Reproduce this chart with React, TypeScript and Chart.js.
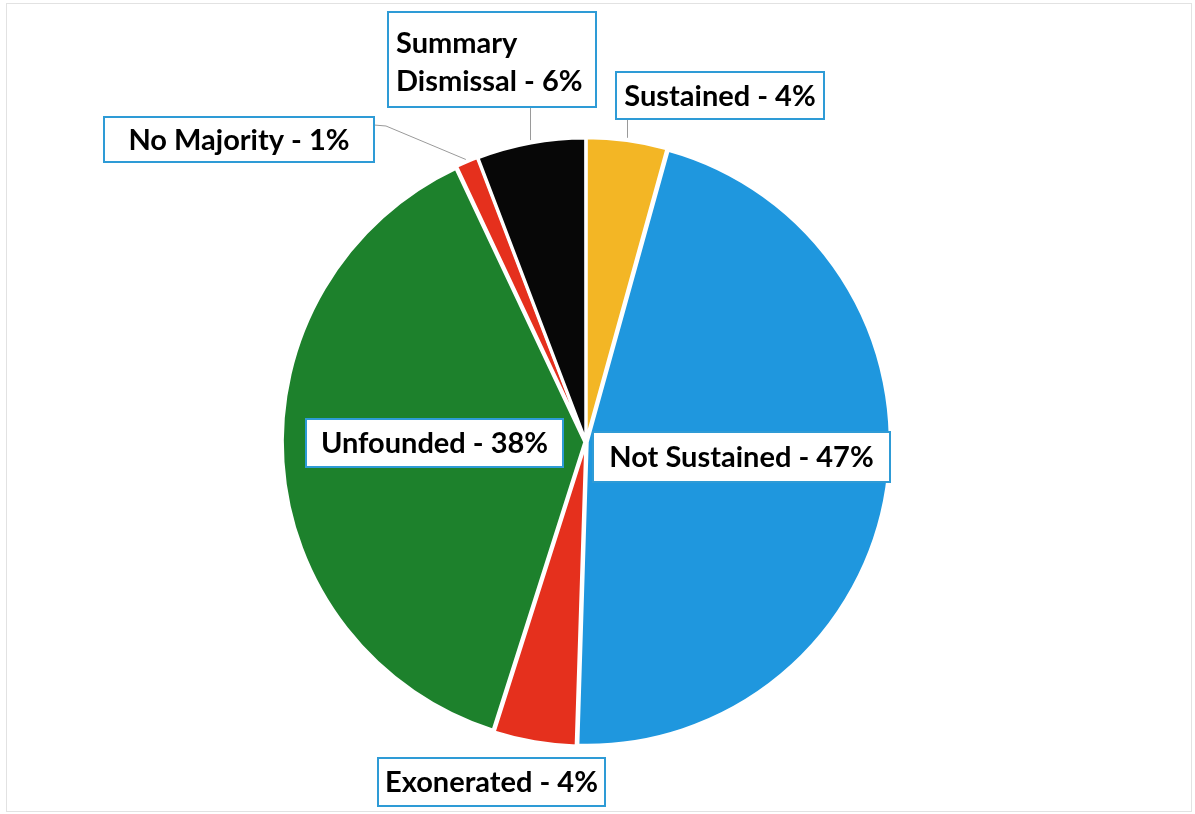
import React, { useEffect, useRef } from "react";
import { Chart, registerables } from "chart.js";

Chart.register(...registerables);

// ---- data ----
const categories = [
  "Sustained",
  "Not Sustained",
  "Exonerated",
  "Unfounded",
  "No Majority",
  "Summary Dismissal",
];
const shares = [4.3, 46.2, 4.4, 38.1, 1.2, 5.8];
const percentLabels = ["4%", "47%", "4%", "38%", "1%", "6%"];
const sliceColors = ["#F3B625", "#1F97DE", "#E5301D", "#1D812C", "#E5301D", "#070707"];

// ---- label layout (relative to pie centre) ----
type LabelBox = {
  dx: number;
  dy: number;
  w: number;
  h: number;
  lines: string[] | null;
  leader: "down" | "side" | null;
};
const labelBoxes: LabelBox[] = [
  { dx: 134, dy: -346.5, w: 208, h: 47, lines: null, leader: "down" },
  { dx: 155.5, dy: 15, w: 297, h: 50, lines: null, leader: null },
  { dx: -94.5, dy: 340, w: 227, h: 48, lines: null, leader: null },
  { dx: -151.5, dy: 1, w: 257, h: 48, lines: null, leader: null },
  { dx: -347, dy: -302.5, w: 270, h: 45, lines: null, leader: "side" },
  { dx: -94, dy: -382.5, w: 208, h: 95, lines: ["Summary", "Dismissal - 6%"], leader: "down" },
];

const FONT_SIZE = 29;
const FONT = `bold ${FONT_SIZE}px Lato, "Open Sans", sans-serif`;
const BOX_BORDER = "#2E9BD6";
const LEADER = "#9a9a9a";

const labelPlugin = {
  id: "boxLabels",
  beforeDraw(chart: any) {
    const ctx = chart.ctx;
    ctx.save();
    ctx.strokeStyle = "#e2e2e2";
    ctx.lineWidth = 1;
    ctx.strokeRect(6.5, 3.5, chart.width - 10, chart.height - 6);
    ctx.restore();
  },
  afterDatasetsDraw(chart: any) {
    const ctx = chart.ctx;
    const meta = chart.getDatasetMeta(0);
    const offset = chart.data.datasets[0].offset || 0;
    ctx.save();
    meta.data.forEach((arc: any, i: number) => {
      const box = labelBoxes[i];
      const cx = arc.x;
      const cy = arc.y;
      const mid = (arc.startAngle + arc.endAngle) / 2;
      const rr = arc.outerRadius + offset;
      const tx = cx + Math.cos(mid) * rr;
      const ty = cy + Math.sin(mid) * rr;
      const bx = cx + box.dx - box.w / 2;
      const by = cy + box.dy - box.h / 2;

      // leader line
      if (box.leader) {
        ctx.strokeStyle = LEADER;
        ctx.lineWidth = 1;
        ctx.beginPath();
        if (box.leader === "down") {
          ctx.moveTo(Math.round(tx) + 0.5, by + box.h);
          ctx.lineTo(Math.round(tx) + 0.5, ty);
        } else {
          ctx.moveTo(bx + box.w, by + 8);
          ctx.lineTo(bx + box.w + 12, by + 9);
          ctx.lineTo(tx, ty);
        }
        ctx.stroke();
      }

      // box
      ctx.fillStyle = "#ffffff";
      ctx.fillRect(bx, by, box.w, box.h);
      ctx.strokeStyle = BOX_BORDER;
      ctx.lineWidth = 2;
      ctx.strokeRect(bx, by, box.w, box.h);

      // text
      ctx.fillStyle = "#000000";
      ctx.font = FONT;
      ctx.textBaseline = "alphabetic";
      if (box.lines) {
        ctx.textAlign = "left";
        box.lines.forEach((line, k) => {
          ctx.fillText(line, bx + 8, by + 41 + k * 38);
        });
      } else {
        ctx.textAlign = "center";
        const text = `${categories[i]} - ${percentLabels[i]}`;
        ctx.fillText(text, bx + box.w / 2, by + box.h / 2 + FONT_SIZE * 0.36);
      }
    });
    ctx.restore();
  },
};

export default function App() {
  const canvasRef = useRef<HTMLCanvasElement | null>(null);

  useEffect(() => {
    document.body.style.margin = "0";
    const canvas = canvasRef.current;
    if (!canvas) return;
    const chart = new Chart(canvas, {
      type: "pie",
      data: {
        labels: categories,
        datasets: [
          {
            data: shares,
            backgroundColor: sliceColors,
            borderColor: "#ffffff",
            borderWidth: 3,
            offset: 5,
          } as any,
        ],
      },
      options: {
        animation: false,
        responsive: false,
        devicePixelRatio: 1,
        radius: 302,
        layout: { padding: { left: 0, right: 23, top: 70, bottom: 0 } },
        plugins: {
          legend: { display: false },
          tooltip: { enabled: false },
          title: { display: false },
        },
        events: [],
      } as any,
      plugins: [labelPlugin],
    });
    return () => chart.destroy();
  }, []);

  return (
    <div style={{ width: 1195, height: 814, background: "#ffffff" }}>
      <canvas ref={canvasRef} width={1195} height={814} style={{ display: "block" }} />
    </div>
  );
}
